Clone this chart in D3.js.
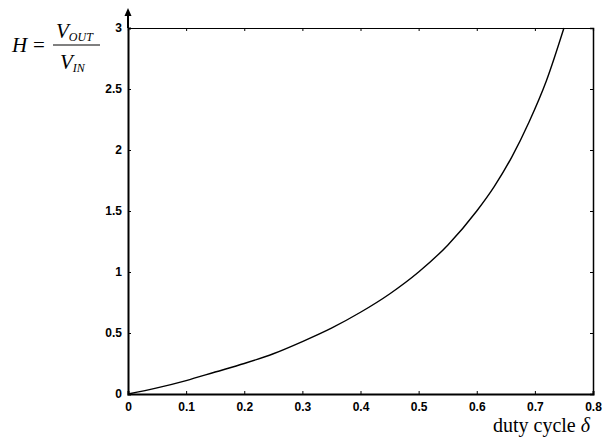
<!DOCTYPE html>
<html>
<head>
<meta charset="utf-8">
<script src="https://cdn.jsdelivr.net/npm/d3@7"></script>
<style>
  body { margin: 0; background: #fff; }
  .tick text { font-family: "Liberation Sans", Arial, sans-serif; font-weight: bold; font-size: 12px; }
  .serif { font-family: "Liberation Serif", "Times New Roman", serif; }
</style>
</head>
<body>
<div id="chart"></div>
<script>
// duty cycle values and H = Vout/Vin
var duty = [0, 0.05, 0.1, 0.15, 0.2, 0.25, 0.3, 0.35, 0.4, 0.45, 0.5, 0.55, 0.6, 0.63, 0.66, 0.69, 0.72, 0.75];
var gain = [0, 0.05, 0.11, 0.18, 0.25, 0.33, 0.43, 0.54, 0.67, 0.82, 1.0, 1.22, 1.5, 1.7, 1.94, 2.23, 2.57, 3.0];
var xTicks = [0, 0.1, 0.2, 0.3, 0.4, 0.5, 0.6, 0.7, 0.8];
var yTicks = [0, 0.5, 1, 1.5, 2, 2.5, 3];

var W = 608, H = 441;
var margin = { top: 28, right: 15, bottom: 47, left: 128 };
var width = W - margin.left - margin.right;
var height = H - margin.top - margin.bottom;

var svg = d3.select("#chart").append("svg")
  .attr("width", W).attr("height", H);

var g = svg.append("g")
  .attr("transform", "translate(" + margin.left + "," + margin.top + ")");

var x = d3.scaleLinear().domain([0, 0.8]).range([0, width]);
var y = d3.scaleLinear().domain([0, 3]).range([height, 0]);

// box: top and right (thin), ticks pointing inwards
g.append("g")
  .attr("class", "top")
  .call(d3.axisTop(x).tickValues(xTicks).tickSize(-3).tickFormat(""))
  .call(function(s) { s.select(".domain").attr("stroke-width", 1.2); });

g.append("g")
  .attr("class", "right")
  .attr("transform", "translate(" + width + ",0)")
  .call(d3.axisRight(y).tickValues(yTicks).tickSize(-3).tickFormat(""))
  .call(function(s) { s.select(".domain").attr("stroke-width", 1.5); });

// bottom and left axes with labels
g.append("g")
  .attr("transform", "translate(0," + height + ")")
  .call(d3.axisBottom(x).tickValues(xTicks).tickSize(-3).tickPadding(8)
    .tickFormat(function(d) { return d === 0 ? "0" : d3.format(".1f")(d); }))
  .call(function(s) { s.select(".domain").attr("stroke-width", 2); });

g.append("g")
  .call(d3.axisLeft(y).tickValues(yTicks).tickSize(-3).tickPadding(6)
    .tickFormat(function(d) { return d; }))
  .call(function(s) { s.select(".domain").attr("stroke-width", 2); });

// arrow on top of the y axis
g.append("line")
  .attr("x1", 0).attr("x2", 0).attr("y1", 0).attr("y2", -16)
  .attr("stroke", "#000").attr("stroke-width", 2);
g.append("path")
  .attr("d", "M-3.5,-12 L0,-20 L3.5,-12 Z")
  .attr("fill", "#000");

// curve
var pts = duty.map(function(d, i) { return [d, gain[i]]; });
var line = d3.line()
  .x(function(d) { return x(d[0]); })
  .y(function(d) { return y(d[1]); })
  .curve(d3.curveMonotoneX);

g.append("path")
  .datum(pts)
  .attr("d", line)
  .attr("fill", "none")
  .attr("stroke", "#000")
  .attr("stroke-width", 1.4);

// x label
svg.append("text")
  .attr("class", "serif")
  .attr("x", 590).attr("y", 432)
  .attr("text-anchor", "end")
  .attr("font-size", 20)
  .html('duty cycle <tspan font-style="italic">δ</tspan>');

// y label: H = Vout / Vin
var lab = svg.append("g").attr("class", "serif").attr("font-style", "italic");
lab.append("text").attr("x", 12).attr("y", 52).attr("font-size", 21).text("H");
lab.append("text").attr("x", 33).attr("y", 52).attr("font-size", 21).attr("font-style", "normal").text("=");
lab.append("line")
  .attr("x1", 53).attr("x2", 100).attr("y1", 45).attr("y2", 45)
  .attr("stroke", "#000").attr("stroke-width", 1);
var num = lab.append("text").attr("x", 56).attr("y", 38).attr("font-size", 21);
num.append("tspan").text("V");
num.append("tspan").attr("font-size", 12).attr("dy", 3).text("OUT");
var den = lab.append("text").attr("x", 60).attr("y", 69).attr("font-size", 21);
den.append("tspan").text("V");
den.append("tspan").attr("font-size", 12).attr("dy", 3).text("IN");
</script>
</body>
</html>
